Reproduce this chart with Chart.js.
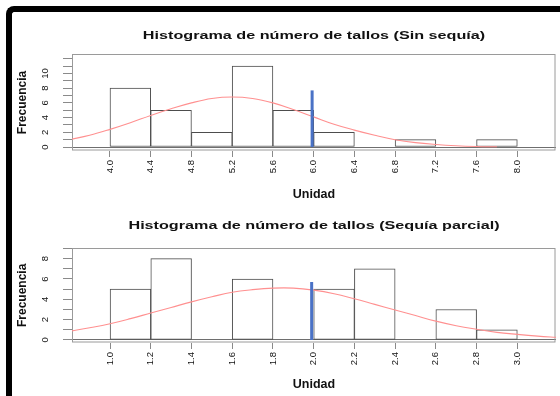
<!DOCTYPE html>
<html>
<head>
<meta charset="utf-8">
<script src="https://cdn.jsdelivr.net/npm/chart.js@4.4.1/dist/chart.umd.min.js"></script>
<style>
  html, body { margin: 0; padding: 0; background: #fff; }
  body { width: 560px; height: 396px; position: relative; overflow: hidden; }
  .panel { position: absolute; left: 0; width: 560px; }
  #topPanel { top: 0; height: 210px; }
  #bottomPanel { top: 200px; height: 196px; }
  .frame {
    position: absolute; left: 6px; top: 6px; width: 620px; height: 460px;
    border-top: 6px solid #000; border-left: 6px solid #000;
    border-top-left-radius: 8px; box-sizing: border-box; pointer-events: none;
  }
</style>
</head>
<body>
<div class="panel" id="topPanel"><canvas id="chartSin" width="560" height="210"></canvas></div>
<div class="panel" id="bottomPanel"><canvas id="chartParcial" width="560" height="196"></canvas></div>
<div class="frame"></div>
<script>
// ---- Sin sequía: histogram of stem counts (bins 0.4 wide) ----
const binCentersSin = [4.2, 4.6, 5.0, 5.4, 5.8, 6.2, 6.6, 7.0, 7.4, 7.8];
const countsSin     = [8, 5, 2, 11, 5, 2, 0, 1, 0, 1];
// fitted normal curve, read at regular points
const curveXSin = [3.6, 3.8, 4.0, 4.2, 4.4, 4.6, 4.8, 5.0, 5.2, 5.4, 5.6, 5.8, 6.0, 6.2, 6.4, 6.6, 6.8, 7.0, 7.2, 7.4, 7.6, 7.8];
const curveYSin = [1.0, 1.6, 2.4, 3.3, 4.3, 5.2, 6.0, 6.6, 6.8, 6.6, 6.0, 5.1, 4.1, 3.1, 2.3, 1.6, 1.0, 0.6, 0.35, 0.18, 0.08, 0.03];
// reference marker (blue bar)
const markerXSin = 5.985;
const markerTopSin = 7.7;
const xTicksSin = [4.0, 4.4, 4.8, 5.2, 5.6, 6.0, 6.4, 6.8, 7.2, 7.6, 8.0];
const yTicksSin = [0, 1, 2, 3, 4, 5, 6, 7, 8, 9, 10, 11, 12];
const yLabelsSin = [0, 2, 4, 6, 8, 10];

// ---- Sequía parcial: histogram of stem counts (bins 0.2 wide) ----
const binCentersParcial = [1.1, 1.3, 1.5, 1.7, 1.9, 2.1, 2.3, 2.5, 2.7, 2.9];
const countsParcial     = [5, 8, 0, 6, 0, 5, 7, 0, 3, 1];
const curveXParcial = [0.8, 0.9, 1.0, 1.1, 1.2, 1.3, 1.4, 1.5, 1.6, 1.7, 1.8, 1.9, 2.0, 2.1, 2.2, 2.3, 2.4, 2.5, 2.6, 2.7, 2.8, 2.9, 3.0, 3.1, 3.2];
const curveYParcial = [0.85, 1.2, 1.6, 2.1, 2.65, 3.2, 3.75, 4.25, 4.7, 4.95, 5.1, 5.1, 4.9, 4.55, 4.05, 3.5, 2.95, 2.4, 1.85, 1.4, 1.05, 0.75, 0.55, 0.38, 0.25];
const markerXParcial = 1.99;
const markerTopParcial = 5.7;
const xTicksParcial = [1.0, 1.2, 1.4, 1.6, 1.8, 2.0, 2.2, 2.4, 2.6, 2.8, 3.0];
const yTicksParcial = [0, 1, 2, 3, 4, 5, 6, 7, 8, 9];
const yLabelsParcial = [0, 2, 4, 6, 8];

const FONT = "'Liberation Sans', Arial, Helvetica, sans-serif";
Chart.defaults.font.family = FONT;

// grey box around the plotting region
const plotBox = {
  id: 'plotBox',
  beforeDatasetsDraw(chart, args, opts) {
    const { ctx, chartArea: a } = chart;
    ctx.save();
    ctx.strokeStyle = opts.color;
    ctx.lineWidth = 1;
    const l = Math.round(a.left) + 0.5, t = Math.round(a.top) + 0.5;
    ctx.strokeRect(l, t, Math.round(a.right) - 1 - l, Math.round(a.bottom) - 1 - t);
    ctx.restore();
  }
};

// y tick labels written parallel to the axis (reading upwards)
const uprightLabels = {
  id: 'uprightLabels',
  afterDraw(chart, args, opts) {
    const { ctx } = chart;
    const y = chart.scales.y;
    ctx.save();
    ctx.font = opts.font;
    ctx.fillStyle = opts.color;
    ctx.textAlign = 'center';
    ctx.textBaseline = 'middle';
    opts.values.forEach(v => {
      ctx.save();
      ctx.translate(opts.x, y.getPixelForValue(v));
      ctx.rotate(-Math.PI / 2);
      ctx.fillText(String(v), 0, 0);
      ctx.restore();
    });
    ctx.restore();
  }
};

// bold, horizontally widened main title
const wideTitle = {
  id: 'wideTitle',
  afterDraw(chart, args, opts) {
    const { ctx, chartArea: a } = chart;
    ctx.save();
    ctx.font = opts.font;
    ctx.fillStyle = opts.color;
    ctx.textAlign = 'center';
    ctx.textBaseline = 'alphabetic';
    ctx.translate((a.left + a.right) / 2, opts.baseline);
    ctx.scale(opts.stretch, 1);
    ctx.fillText(opts.text, 0, 0);
    ctx.restore();
  }
};

function histogram(canvasId, cfg) {
  return new Chart(document.getElementById(canvasId), {
    type: 'line',
    plugins: [plotBox, uprightLabels, wideTitle],
    data: {
      datasets: [
        {
          type: 'line',
          data: [{ x: cfg.markerX, y: 0 }, { x: cfg.markerX, y: cfg.markerTop }],
          borderColor: '#4a72c6', borderWidth: 3, pointRadius: 0, order: 1
        },
        {
          type: 'line',
          data: cfg.curveX.map((x, i) => ({ x, y: cfg.curveY[i] })),
          borderColor: '#ff9090', borderWidth: 1.1, pointRadius: 0,
          tension: 0.4, fill: false, order: 2
        },
        {
          type: 'bar',
          data: cfg.centers.map((c, i) => ({ x: c, y: cfg.counts[i] })),
          backgroundColor: '#ffffff', borderColor: '#4d4d4d', borderWidth: 1,
          borderSkipped: false, barPercentage: 1, categoryPercentage: 1, order: 3
        }
      ]
    },
    options: {
      responsive: false,
      animation: false,
      events: [],
      layout: { padding: { left: 0, right: 4, top: cfg.padTop, bottom: 0 } },
      plugins: {
        legend: { display: false },
        tooltip: { enabled: false },
        plotBox: { color: '#9a9a9a' },
        uprightLabels: { values: cfg.yLabels, x: 45.5, font: '9.5px ' + FONT, color: '#111' },
        wideTitle: { text: cfg.title, font: 'bold 10.5px ' + FONT, color: '#111', baseline: cfg.titleBaseline, stretch: 1.54 }
      },
      scales: {
        x: {
          type: 'linear', min: cfg.xMin, max: cfg.xMax, offset: false,
          afterBuildTicks: s => { s.ticks = cfg.xTicks.map(v => ({ value: v })); },
          afterFit: s => { s.height = cfg.xAxisHeight; },
          ticks: {
            autoSkip: false, minRotation: 90, maxRotation: 90, padding: 3,
            font: { size: 9.5 }, color: '#111',
            callback: v => Number(v).toFixed(1)
          },
          grid: { offset: false, drawOnChartArea: false, drawTicks: true, tickLength: 6, tickColor: '#8a8a8a' },
          border: { display: false },
          title: {
            display: true, text: 'Unidad', color: '#111',
            font: { size: 12.5, weight: 'bold' },
            padding: { top: 0, bottom: cfg.xTitlePad }
          }
        },
        y: {
          type: 'linear', min: cfg.yMin, max: cfg.yMax,
          afterBuildTicks: s => { s.ticks = cfg.yTicks.map(v => ({ value: v })); },
          afterFit: s => { s.width = 72; },
          ticks: { display: false },
          grid: {
            drawOnChartArea: true, drawTicks: true, tickLength: 9,
            color: c => (c.tick && c.tick.value === 0) ? '#6e6e6e' : 'rgba(0,0,0,0)',
            tickColor: '#8a8a8a'
          },
          border: { display: false },
          title: {
            display: true, text: 'Frecuencia', color: '#111',
            font: { size: 12, weight: 'bold' },
            padding: { top: 15.5, bottom: 0 }
          }
        }
      }
    }
  });
}

histogram('chartSin', {
  title: 'Histograma de número de tallos (Sin sequía)',
  centers: binCentersSin, counts: countsSin,
  curveX: curveXSin, curveY: curveYSin,
  markerX: markerXSin, markerTop: markerTopSin,
  xTicks: xTicksSin, yTicks: yTicksSin, yLabels: yLabelsSin,
  xMin: 3.627, xMax: 8.38, yMin: -0.54, yMax: 12.65,
  padTop: 54, xAxisHeight: 59, xTitlePad: 7.5,
  titleBaseline: 38.5
});

histogram('chartParcial', {
  title: 'Histograma de número de tallos (Sequía parcial)',
  centers: binCentersParcial, counts: countsParcial,
  curveX: curveXParcial, curveY: curveYParcial,
  markerX: markerXParcial, markerTop: markerTopParcial,
  xTicks: xTicksParcial, yTicks: yTicksParcial, yLabels: yLabelsParcial,
  xMin: 0.813, xMax: 3.19, yMin: -0.3, yMax: 9.08,
  padTop: 47.7, xAxisHeight: 53, xTitlePad: 3.5,
  titleBaseline: 29.3
});
</script>
</body>
</html>
